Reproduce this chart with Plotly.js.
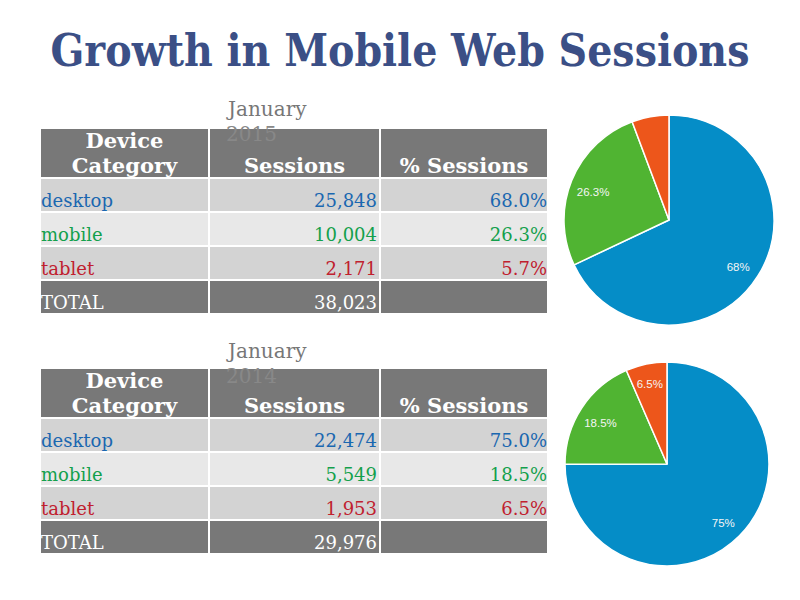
<!DOCTYPE html>
<html><head><meta charset="utf-8">
<script src="https://cdn.plot.ly/plotly-3.0.1.min.js"></script>
<style>body{margin:0;background:#fff}#chart{width:800px;height:600px}</style>
</head><body><div id="chart"></div>
<script>
var categories = ['desktop', 'mobile', 'tablet'];
var sessions2015 = [25848, 10004, 2171];
var share2015 = ['68.0%', '26.3%', '5.7%'];
var total2015 = '38,023';
var pieText2015 = ['68%', '26.3%', ''];
var sessions2014 = [22474, 5549, 1953];
var share2014 = ['75.0%', '18.5%', '6.5%'];
var total2014 = '29,976';
var pieText2014 = ['75%', '18.5%', '6.5%'];
var headerLine1 = ['Device', '', ''];
var headerLine2 = ['Category', 'Sessions', '% Sessions'];
var periods = ['January', '2015', 'January', '2014'];

var catColors = ['#1a67b0', '#13a04c', '#c0202e'];
var pieColors = ['#058dc7', '#50b432', '#ed561b'];
var rowFills = ['#d3d3d3', '#e8e8e8', '#d3d3d3', '#787878'];
var fmt = function (v) { return v.toLocaleString('en-US'); };
var X0 = 40, CW = [169, 171, 168], TW = 508;
var clear = 'rgba(0,0,0,0)';

function px(x) { return x / 800; }
function py(y) { return 1 - y / 600; }

// background cells of the table (fills and white rules)
function fillTable(top) {
  var blank = ['', '', '', ''];
  return {
    type: 'table',
    domain: {x: [px(X0), px(X0 + TW)], y: [py(top + 190), py(top)]},
    columnwidth: CW,
    header: {values: ['', '', ''], height: 50, fill: {color: '#787878'}, line: {color: '#ffffff', width: 2}},
    cells: {values: [blank, blank, blank], height: 34,
      fill: {color: [rowFills, rowFills, rowFills]}, line: {color: '#ffffff', width: 2}}
  };
}

// header labels, one text line per trace
function headerTable(labels, top) {
  return {
    type: 'table',
    domain: {x: [px(X0), px(X0 + TW)], y: [py(top + 80), py(top)]},
    columnwidth: CW,
    header: {values: labels, align: 'center', height: 30,
      fill: {color: clear}, line: {color: clear, width: 0},
      font: {family: 'DejaVu Serif', size: 21, color: '#ffffff', weight: 'bold'}},
    cells: {values: [[], [], []], fill: {color: clear}, line: {color: clear, width: 0}}
  };
}

// body labels
function bodyTable(vals, shares, total, top) {
  var c1 = categories.concat(['TOTAL']);
  var c2 = vals.map(fmt).concat([total]);
  var c3 = shares.concat(['']);
  var fc = catColors.concat(['#ffffff']);
  var rowTop = top + 57;
  return {
    type: 'table',
    domain: {x: [px(33), px(555)], y: [py(rowTop + 170), py(rowTop - 10)]},
    columnwidth: [176, 176, 170],
    header: {values: ['', '', ''], height: 10, fill: {color: clear}, line: {color: clear, width: 0}},
    cells: {
      values: [c1, c2, c3],
      align: ['left', 'right', 'right'],
      height: 34,
      fill: {color: clear}, line: {color: clear, width: 0},
      font: {family: 'DejaVu Serif', size: 18, color: [fc, fc, fc]}
    }
  };
}

function pieTrace(vals, x0, x1, y0, y1) {
  return {
    type: 'pie', labels: categories, values: vals,
    textinfo: 'none', sort: false, direction: 'clockwise', rotation: 0,
    showlegend: false,
    marker: {colors: pieColors, line: {color: '#ffffff', width: 1.5}},
    domain: {x: [px(x0), px(x1)], y: [py(y1), py(y0)]}
  };
}
function pieLabels(vals, texts, x0, x1, y0, y1) {
  return {
    type: 'pie', labels: categories, values: vals, text: texts,
    textinfo: 'text', textposition: 'inside', insidetextorientation: 'horizontal',
    hole: 0.56, sort: false, direction: 'clockwise', rotation: 0,
    showlegend: false,
    marker: {colors: [clear, clear, clear], line: {width: 0}},
    insidetextfont: {family: 'Liberation Sans', size: 11.5, color: '#f4f4f4'},
    domain: {x: [px(x0), px(x1)], y: [py(y1 + 3), py(y0 + 3)]}
  };
}

var data = [
  fillTable(128), headerTable(headerLine1, 124), headerTable(headerLine2, 149),
  bodyTable(sessions2015, share2015, total2015, 128),
  fillTable(368), headerTable(headerLine1, 364), headerTable(headerLine2, 389),
  bodyTable(sessions2014, share2014, total2014, 368),
  pieTrace(sessions2015, 564, 774, 115, 325),
  pieLabels(sessions2015, pieText2015, 564, 774, 115, 325),
  pieTrace(sessions2014, 565, 769, 362, 566),
  pieLabels(sessions2014, pieText2014, 565, 769, 362, 566)
];

function periodAnn(text, y, color) {
  return {text: text, x: px(224), y: py(y), xref: 'paper', yref: 'paper',
    xanchor: 'left', yanchor: 'middle', showarrow: false,
    font: {family: 'DejaVu Serif', size: 20, color: color}};
}

var layout = {
  width: 800, height: 600,
  margin: {l: 0, r: 0, t: 0, b: 0},
  paper_bgcolor: '#ffffff',
  title: {text: 'Growth in Mobile Web Sessions', x: 0.5, xanchor: 'center', y: py(51), yanchor: 'middle',
    font: {family: 'DejaVu Serif Condensed', size: 44, color: '#3b4f86', weight: 'bold'}},
  annotations: [
    periodAnn(periods[0], 109, '#777777'),
    periodAnn(periods[1], 134, '#888888'),
    periodAnn(periods[2], 351, '#777777'),
    periodAnn(periods[3], 376, '#888888')
  ]
};

Plotly.newPlot('chart', data, layout, {displayModeBar: false, staticPlot: true});
</script>
</body></html>
